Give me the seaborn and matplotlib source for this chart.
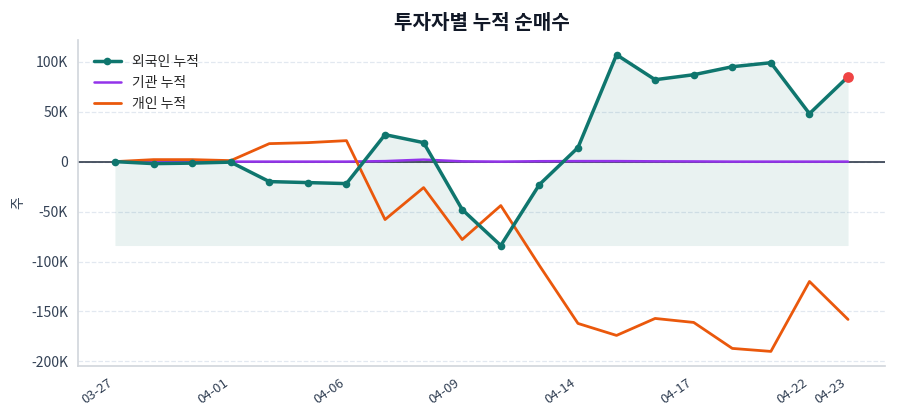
import numpy as np
import pandas as pd
import matplotlib
matplotlib.use("Agg")
import matplotlib.pyplot as plt
import seaborn as sns
from matplotlib.ticker import FuncFormatter

# trading dates (labels shown every 3rd point plus the last)
dates = ["03-27", "03-28", "03-31", "04-01", "04-02", "04-03", "04-06", "04-07",
         "04-08", "04-09", "04-10", "04-11", "04-14", "04-15", "04-16", "04-17",
         "04-18", "04-21", "04-22", "04-23"]

# cumulative net buying (shares)
foreign = [0, -2000, -1500, -500, -20000, -21000, -22000, 27000, 19000, -48000,
           -84000, -23000, 14000, 107000, 82000, 87000, 95000, 99000, 48000, 85000]
institution = [0, 0, 0, 0, 0, 0, 0, 500, 2000, 300,
               0, 400, 500, 500, 300, 200, 0, 0, 0, 0]
individual = [0, 2000, 2000, 1000, 18000, 19000, 21000, -58000, -26000, -78000,
              -44000, -104000, -162000, -174000, -157000, -161000, -187000, -190000, -120000, -158000]

df = pd.DataFrame({"idx": range(len(dates)), "date": dates,
                   "foreign": foreign, "institution": institution, "individual": individual})

sns.set_theme(style="white")
plt.rcParams['font.family'] = ['Noto Sans CJK KR', 'DejaVu Sans']
plt.rcParams['axes.unicode_minus'] = False

fig, ax = plt.subplots(figsize=(9, 4.2), dpi=100)
fig.subplots_adjust(left=0.087, right=0.983, top=0.905, bottom=0.128)

teal = "#0f766e"
purple = "#9333ea"
orange = "#ea580c"

ax.fill_between(df["idx"], df["foreign"], df["foreign"].min(), color=teal, alpha=0.09, lw=0)
ax.axhline(0, color="#1e293b", lw=1.1, zorder=1)

sns.lineplot(data=df, x="idx", y="foreign", ax=ax, color=teal, lw=2.5,
             marker="o", markersize=5.5, markeredgewidth=0, label="외국인 누적", zorder=4)
sns.lineplot(data=df, x="idx", y="institution", ax=ax, color=purple, lw=1.8,
             label="기관 누적", zorder=3)
sns.lineplot(data=df, x="idx", y="individual", ax=ax, color=orange, lw=2,
             label="개인 누적", zorder=3)
ax.scatter(df["idx"].iloc[-1], df["foreign"].iloc[-1], s=60, color="#ef4444", zorder=5, lw=0)

tick_idx = list(range(0, len(dates), 3))
if tick_idx[-1] != len(dates) - 1:
    tick_idx.append(len(dates) - 1)
ax.set_xticks(tick_idx)
ax.set_xticklabels([dates[i] for i in tick_idx], rotation=35, ha="right", fontsize=9.5, color="#334155")
ax.yaxis.set_major_formatter(FuncFormatter(lambda v, p: "0" if v == 0 else f"{int(v/1000)}K"))
ax.tick_params(axis="y", labelsize=10, colors="#334155", length=4, color="#64748b")
ax.tick_params(axis="x", length=4, color="#64748b")
ax.yaxis.grid(True, ls="--", color="#e2e8f0", lw=0.9)
ax.set_axisbelow(True)

ax.set_xlabel("")
ax.set_ylabel("주", fontsize=10, color="#334155")
ax.set_title("투자자별 누적 순매수", fontsize=14.5, fontweight="bold", color="#111827", pad=8)

for s in ["top", "right"]:
    ax.spines[s].set_visible(False)
for s in ["left", "bottom"]:
    ax.spines[s].set_color("#d1d5db")
    ax.spines[s].set_linewidth(1.2)

leg = ax.legend(loc="upper left", frameon=False, fontsize=10, borderaxespad=0.7)

fig.savefig("out.png", dpi=100)
